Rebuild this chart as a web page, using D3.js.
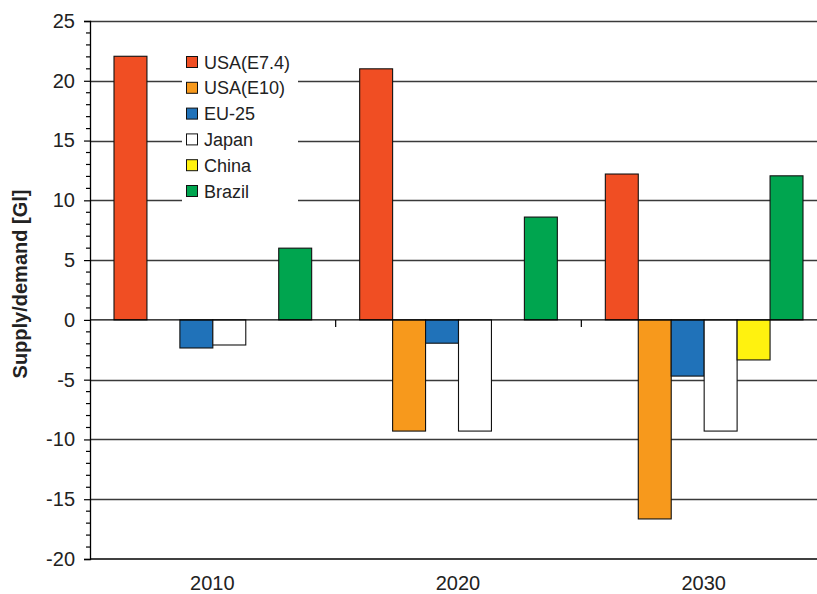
<!DOCTYPE html>
<html>
<head>
<meta charset="utf-8">
<script src="https://cdn.jsdelivr.net/npm/d3@7"></script>
<style>
  body { margin: 0; background: #fff; }
  svg { font-family: "Liberation Sans", Arial, sans-serif; }
</style>
</head>
<body>
<div id="container"></div>
<script>
'use strict'
// data
const years = ['2010', '2020', '2030'];
const series = ['USA(E7.4)', 'USA(E10)', 'EU-25', 'Japan', 'China', 'Brazil'];
const colors = ['#f04e23', '#f7991c', '#2072b9', '#ffffff', '#fff20f', '#00a54f'];
const usaE74 = [22.05, 21.0, 12.2];
const usaE10 = [0, -9.3, -16.65];
const eu25   = [-2.35, -1.95, -4.7];
const japan  = [-2.1, -9.3, -9.3];
const china  = [0, 0, -3.35];
const brazil = [6.0, 8.6, 12.05];
const yTicks = [-20, -15, -10, -5, 0, 5, 10, 15, 20, 25];

const values = [usaE74, usaE10, eu25, japan, china, brazil];

const width = 817, height = 594;
const plotL = 90, plotR = 827, plotT = 21, plotB = 559;

const svg = d3.select('#container').append('svg')
    .attr('width', width)
    .attr('height', height);

const y = d3.scaleLinear().domain([-20, 25]).range([plotB, plotT]);
const x0 = d3.scaleBand().domain(years).range([plotL, plotR]);
const x1 = d3.scaleBand().domain(series).range([24, x0.bandwidth() - 24]);

// grid lines
svg.append('g').selectAll('line')
    .data(yTicks.filter(d => d !== 0 && d !== -20))
    .enter().append('line')
    .attr('x1', plotL).attr('x2', width)
    .attr('y1', d => Math.round(y(d)) + 0.5).attr('y2', d => Math.round(y(d)) + 0.5)
    .attr('stroke', '#3a3a3a')
    .attr('stroke-width', 1.3);

// bars
const rows = [];
years.forEach((yr, i) => {
  series.forEach((s, j) => {
    if (values[j][i] !== 0) rows.push({year: yr, s: s, v: values[j][i], c: colors[j]});
  });
});

svg.append('g').selectAll('rect')
    .data(rows)
    .enter().append('rect')
    .attr('x', d => x0(d.year) + x1(d.s))
    .attr('width', x1.bandwidth())
    .attr('y', d => y(Math.max(0, d.v)))
    .attr('height', d => Math.abs(y(d.v) - y(0)))
    .attr('fill', d => d.c)
    .attr('stroke', '#111')
    .attr('stroke-width', 1.1);

// zero line + category ticks
svg.append('line')
    .attr('x1', plotL).attr('x2', width)
    .attr('y1', y(0)).attr('y2', y(0))
    .attr('stroke', '#000').attr('stroke-width', 1.3);
svg.append('g').selectAll('line')
    .data(years.slice(1))
    .enter().append('line')
    .attr('x1', d => x0(d)).attr('x2', d => x0(d))
    .attr('y1', y(0)).attr('y2', y(0) + 7)
    .attr('stroke', '#000').attr('stroke-width', 1.2);

// bottom axis line
svg.append('line')
    .attr('x1', plotL).attr('x2', width)
    .attr('y1', plotB).attr('y2', plotB)
    .attr('stroke', '#000').attr('stroke-width', 1.3);

// y axis
const yAxis = d3.axisLeft(y).tickValues(yTicks).tickSize(6).tickPadding(9).tickFormat(d => String(d));
const ga = svg.append('g')
    .attr('transform', 'translate(' + plotL + ',0)')
    .call(yAxis);
ga.select('.domain').attr('stroke', '#000').attr('stroke-width', 1.3);
ga.selectAll('.tick line').attr('stroke', '#000').attr('stroke-width', 1.2);
ga.selectAll('.tick text').attr('font-size', 20).attr('fill', '#222')
    .attr('font-family', '"Liberation Sans", Arial, sans-serif');

// minor ticks
svg.append('g').selectAll('line')
    .data(d3.range(-20, 26, 1).filter(d => d % 5 !== 0))
    .enter().append('line')
    .attr('x1', plotL - 4).attr('x2', plotL)
    .attr('y1', d => y(d)).attr('y2', d => y(d))
    .attr('stroke', '#000').attr('stroke-width', 1.2);

// x labels
svg.append('g').selectAll('text')
    .data(years)
    .enter().append('text')
    .attr('x', d => x0(d) + x0.bandwidth() / 2 - 0.5)
    .attr('y', 590)
    .attr('text-anchor', 'middle')
    .attr('font-size', 20)
    .attr('fill', '#222')
    .text(d => d);

// y title
svg.append('text')
    .attr('transform', 'translate(27,' + 284 + ') rotate(-90)')
    .attr('text-anchor', 'middle')
    .attr('font-size', 20)
    .attr('font-weight', 'bold')
    .attr('fill', '#222')
    .text('Supply/demand [Gl]');

// legend
const lg = svg.append('g');
lg.append('rect')
    .attr('x', 182).attr('y', 45).attr('width', 116).attr('height', 160)
    .attr('fill', '#fff');
const item = lg.selectAll('g')
    .data(series)
    .enter().append('g')
    .attr('transform', (d, i) => 'translate(186,' + (62 + i * 25.8) + ')');
item.append('rect')
    .attr('x', 0.5).attr('y', -5.5).attr('width', 11).attr('height', 11)
    .attr('fill', (d, i) => colors[i])
    .attr('stroke', '#111').attr('stroke-width', 1);
item.append('text')
    .attr('x', 18).attr('y', 6.5)
    .attr('font-size', 18)
    .attr('fill', '#222')
    .text(d => d);
</script>
</body>
</html>
